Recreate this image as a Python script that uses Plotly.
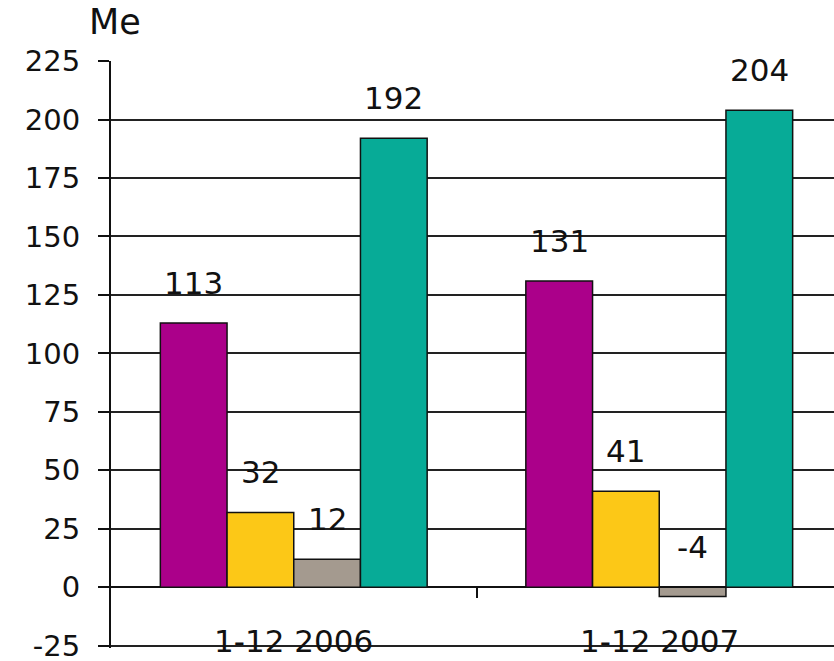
import plotly.graph_objects as go

# Values in Me per period
periods = ["1-12 2006", "1-12 2007"]
series_a = [113, 131]   # magenta
series_b = [32, 41]     # yellow
series_c = [12, -4]     # grey
series_d = [192, 204]   # teal
y_ticks = [-25, 0, 25, 50, 75, 100, 125, 150, 175, 200, 225]
y_tick_text = [str(t) for t in y_ticks]

colors = ["#AB008A", "#FCC817", "#A49A8F", "#07AB97"]
series = [series_a, series_b, series_c, series_d]

FONT = "DejaVu Sans"
TXT = "#111111"
x_pos = list(range(len(periods)))

fig = go.Figure()
for vals, col in zip(series, colors):
    fig.add_trace(go.Bar(
        x=x_pos, y=vals,
        marker=dict(color=col, line=dict(color=TXT, width=1.5)),
        showlegend=False, hoverinfo="skip",
    ))

n = len(series)
bargap = 0.27
bar_w = (1 - bargap) / n
annotations = []
for i, vals in enumerate(series):
    for j, v in enumerate(vals):
        xc = x_pos[j] - (1 - bargap) / 2 + bar_w * (i + 0.5)
        annotations.append(dict(
            x=xc, y=max(v, 0), xref="x", yref="y",
            text=str(v), showarrow=False, yanchor="bottom",
            yshift=20, font=dict(family=FONT, size=31, color=TXT),
        ))

for j, p in enumerate(periods):
    annotations.append(dict(
        x=x_pos[j], y=y_ticks[0], xref="x", yref="y",
        text=p, showarrow=False, yanchor="middle", yshift=5,
        font=dict(family=FONT, size=31, color=TXT),
    ))

annotations.append(dict(
    x=0.005, y=1, xref="paper", yref="paper", text="Me",
    showarrow=False, xanchor="center", yanchor="middle", yshift=39,
    font=dict(family=FONT, size=35, color=TXT),
))

x_range = [-0.5, -0.5 + 723 / 365.5]

fig.update_layout(
    width=834, height=661,
    margin=dict(l=111, r=0, t=61, b=13, autoexpand=False),
    paper_bgcolor="white", plot_bgcolor="white",
    barmode="group", bargap=bargap, bargroupgap=0,
    annotations=annotations,
    xaxis=dict(
        range=x_range,
        showgrid=False, showticklabels=False, showline=False,
        zeroline=False, ticks="",
    ),
    xaxis2=dict(
        overlaying="x", anchor="free", position=26 / 251.05,
        range=x_range,
        tickvals=[0.5], ticks="outside", ticklen=10, tickwidth=1.5,
        tickcolor=TXT, showticklabels=False, showgrid=False,
        showline=False, zeroline=False,
    ),
    yaxis=dict(
        range=[y_ticks[0] - 1, y_ticks[-1] + 0.05],
        tickvals=y_ticks, ticktext=y_tick_text,
        ticks="outside", ticklen=11, tickwidth=1.5,
        tickcolor=TXT, automargin=False,
        showline=True, linecolor=TXT, linewidth=2,
        showgrid=True, gridcolor="#222222", gridwidth=1.5,
        zeroline=True, zerolinecolor=TXT, zerolinewidth=1.5,
        tickfont=dict(family=FONT, size=29, color=TXT),
        ticklabelstandoff=12, ticklabeloverflow="allow",
    ),
)
# invisible trace to activate the second x-axis carrying the divider tick
fig.add_trace(go.Scatter(x=[0.5], y=[None], xaxis="x2", showlegend=False,
                         hoverinfo="skip", mode="markers"))

fig.write_html("out.html")
